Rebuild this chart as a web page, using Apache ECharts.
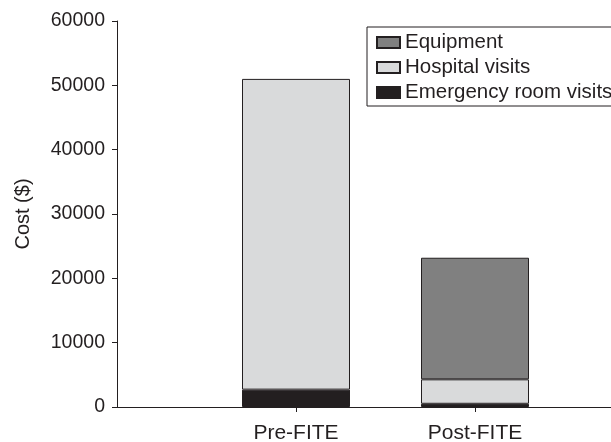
<!DOCTYPE html>
<html><head><meta charset="utf-8">
<script src="https://cdn.jsdelivr.net/npm/echarts@6/dist/echarts.min.js"></script>
<style>html,body{margin:0;padding:0;background:#fff}#c{width:611px;height:442px}</style>
</head><body><div id="c"></div>
<script>
const categories = ['', 'Pre-FITE', 'Post-FITE', ''];
const erVisits = [null, 2700, 500, null];
const hospitalVisits = [null, 48300, 3800, null];
const equipment = [null, null, 18900, null];
const yTicks = [0, 10000, 20000, 30000, 40000, 50000, 60000];

const ink = '#231f20';
const font = 'Liberation Sans, Arial, sans-serif';
const chart = echarts.init(document.getElementById('c'), null, {renderer: 'canvas'});
const mk = (name, data, color) => ({
  name, type: 'bar', stack: 'total', data, barWidth: 108,
  itemStyle: {color, borderColor: ink, borderWidth: 1},
  emphasis: {disabled: true}
});
chart.setOption({
  animation: false,
  grid: {left: 117, top: 21, bottom: 35, width: 537, outerBoundsMode: 'none', containLabel: false},
  legend: {
    orient: 'vertical', left: 367, top: 27,
    data: ['Equipment', 'Hospital visits', 'Emergency room visits'],
    icon: 'rect',
    itemWidth: 23, itemHeight: 11, itemGap: 4,
    padding: [5, 14, 3, 9],
    borderColor: ink, borderWidth: 1,
    textStyle: {fontSize: 20.5, fontFamily: font, color: ink, lineHeight: 21},
    selectedMode: false
  },
  xAxis: {
    type: 'category', data: categories, boundaryGap: false,
    axisLine: {lineStyle: {color: ink, width: 1}},
    axisTick: {length: 5, lineStyle: {color: ink}, interval: (i) => i === 1 || i === 2},
    axisLabel: {fontSize: 21, fontFamily: font, color: ink, margin: 16, interval: 0}
  },
  yAxis: {
    type: 'value', min: yTicks[0], max: yTicks[yTicks.length - 1], interval: 10000,
    name: 'Cost ($)', nameLocation: 'middle', nameGap: 84,
    nameTextStyle: {fontSize: 20, fontFamily: font, color: ink},
    axisLine: {show: true, lineStyle: {color: ink, width: 1}},
    axisTick: {show: true, length: 5, lineStyle: {color: ink}},
    splitLine: {show: false},
    axisLabel: {fontSize: 19.5, fontFamily: font, color: ink, margin: 12, formatter: (v) => String(v)}
  },
  series: [
    mk('Emergency room visits', erVisits, ink),
    mk('Hospital visits', hospitalVisits, '#d9dadb'),
    mk('Equipment', equipment, '#808080')
  ]
});
</script></body></html>
